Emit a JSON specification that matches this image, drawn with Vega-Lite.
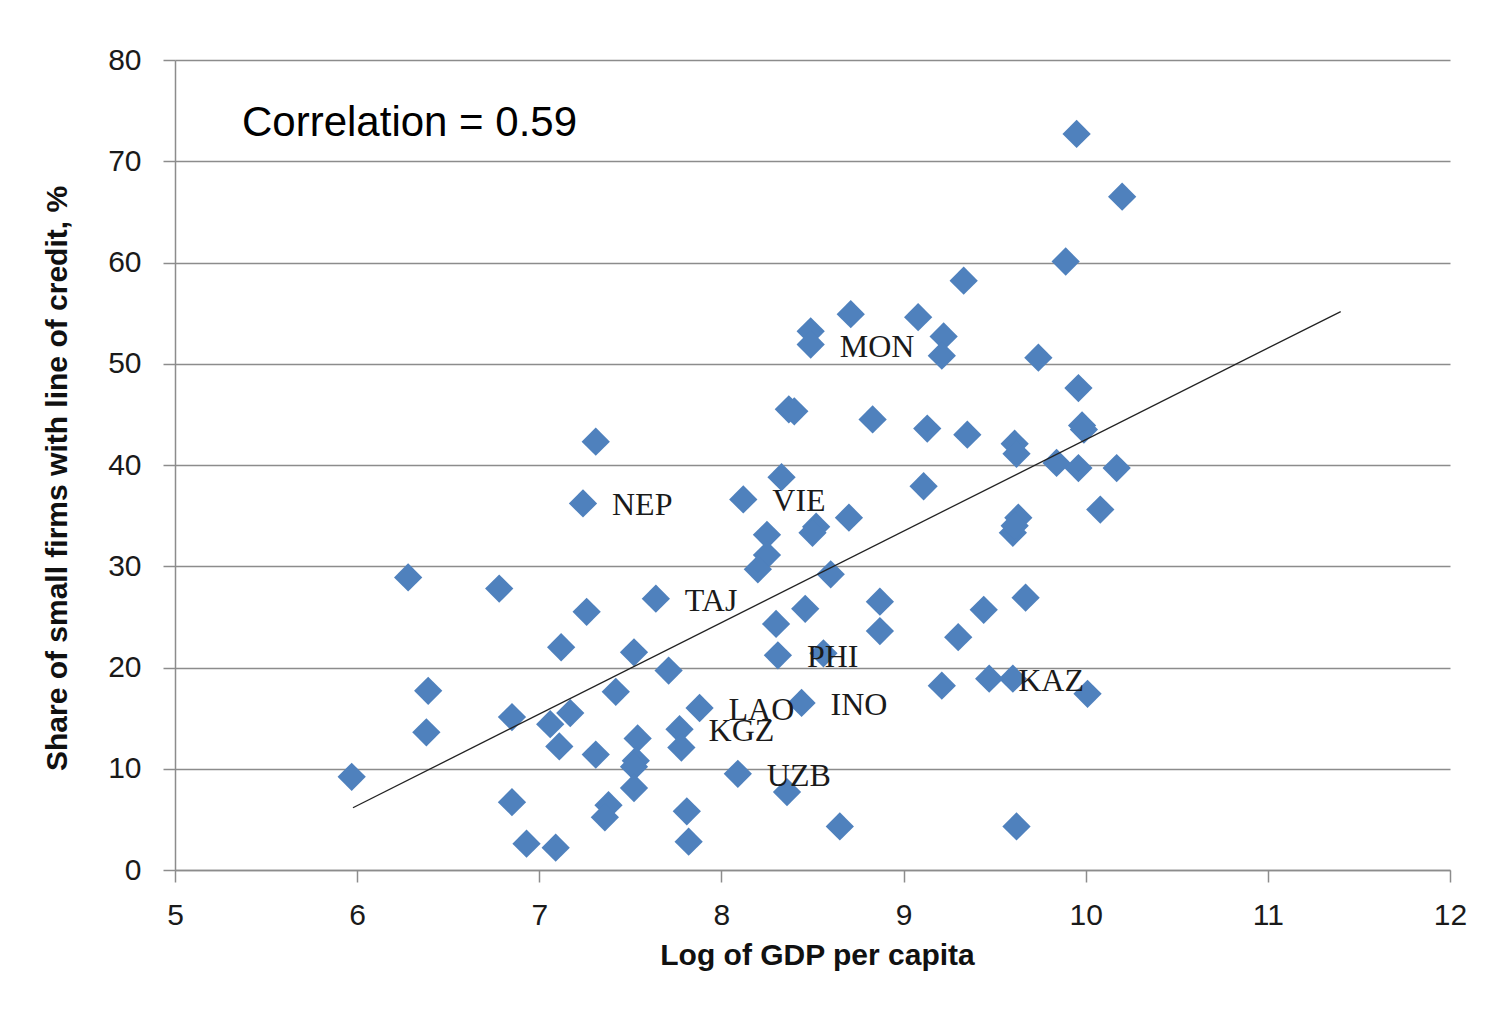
{
  "$schema": "https://vega.github.io/schema/vega-lite/v6.json",
  "width": 1275,
  "height": 810,
  "autosize": {"type": "none"},
  "padding": {"left": 175, "top": 60, "right": 54, "bottom": 153},
  "background": "white",
  "config": {"view": {"stroke": null}},
  "title": {
    "text": "Correlation = 0.59",
    "anchor": "start",
    "frame": "group",
    "orient": "top",
    "offset": -120,
    "dx": 67,
    "baseline": "middle",
    "font": "Liberation Sans",
    "fontSize": 42,
    "fontWeight": "normal",
    "color": "#000000"
  },
  "data": {
    "values": [
      {"x": 5.97, "y": 9.2},
      {"x": 6.28, "y": 28.9},
      {"x": 6.38, "y": 13.6},
      {"x": 6.39, "y": 17.7},
      {"x": 6.78, "y": 27.8},
      {"x": 6.85, "y": 15.1},
      {"x": 6.85, "y": 6.7},
      {"x": 6.93, "y": 2.6},
      {"x": 7.06, "y": 14.4},
      {"x": 7.09, "y": 2.2},
      {"x": 7.11, "y": 12.2},
      {"x": 7.12, "y": 22.0},
      {"x": 7.17, "y": 15.5},
      {"x": 7.24, "y": 36.2, "label": "NEP"},
      {"x": 7.26, "y": 25.5},
      {"x": 7.31, "y": 42.3},
      {"x": 7.31, "y": 11.4},
      {"x": 7.38, "y": 6.4},
      {"x": 7.36, "y": 5.2},
      {"x": 7.42, "y": 17.6},
      {"x": 7.52, "y": 21.5},
      {"x": 7.54, "y": 13.0},
      {"x": 7.53, "y": 10.8},
      {"x": 7.52, "y": 10.2},
      {"x": 7.52, "y": 8.1},
      {"x": 7.64, "y": 26.8, "label": "TAJ"},
      {"x": 7.71, "y": 19.7},
      {"x": 7.77, "y": 13.9, "label": "KGZ"},
      {"x": 7.78, "y": 12.1},
      {"x": 7.81, "y": 5.8},
      {"x": 7.82, "y": 2.8},
      {"x": 7.88, "y": 16.0, "label": "LAO"},
      {"x": 8.09, "y": 9.5, "label": "UZB"},
      {"x": 8.12, "y": 36.6, "label": "VIE"},
      {"x": 8.25, "y": 33.1},
      {"x": 8.25, "y": 31.1},
      {"x": 8.20, "y": 29.7},
      {"x": 8.33, "y": 38.8},
      {"x": 8.30, "y": 24.3},
      {"x": 8.31, "y": 21.2, "label": "PHI"},
      {"x": 8.37, "y": 45.5},
      {"x": 8.40, "y": 45.3},
      {"x": 8.36, "y": 7.7},
      {"x": 8.44, "y": 16.5, "label": "INO"},
      {"x": 8.46, "y": 25.8},
      {"x": 8.49, "y": 53.2},
      {"x": 8.49, "y": 51.9, "label": "MON"},
      {"x": 8.52, "y": 33.9},
      {"x": 8.50, "y": 33.3},
      {"x": 8.56, "y": 21.4},
      {"x": 8.60, "y": 29.2},
      {"x": 8.65, "y": 4.3},
      {"x": 8.70, "y": 34.8},
      {"x": 8.71, "y": 54.9},
      {"x": 8.83, "y": 44.5},
      {"x": 8.87, "y": 26.5},
      {"x": 8.87, "y": 23.6},
      {"x": 9.08, "y": 54.6},
      {"x": 9.22, "y": 52.7},
      {"x": 9.21, "y": 50.8},
      {"x": 9.11, "y": 37.9},
      {"x": 9.13, "y": 43.6},
      {"x": 9.21, "y": 18.2},
      {"x": 9.30, "y": 23.0},
      {"x": 9.33, "y": 58.2},
      {"x": 9.35, "y": 43.0},
      {"x": 9.44, "y": 25.7},
      {"x": 9.47, "y": 18.9, "label": "KAZ"},
      {"x": 9.60, "y": 18.9},
      {"x": 9.61, "y": 42.1},
      {"x": 9.62, "y": 41.1},
      {"x": 9.60, "y": 33.3},
      {"x": 9.63, "y": 34.8},
      {"x": 9.61, "y": 34.0},
      {"x": 9.67, "y": 26.9},
      {"x": 9.62, "y": 4.3},
      {"x": 9.74, "y": 50.6},
      {"x": 9.84, "y": 40.2},
      {"x": 9.89, "y": 60.1},
      {"x": 9.96, "y": 47.6},
      {"x": 9.96, "y": 39.7},
      {"x": 9.95, "y": 72.7},
      {"x": 9.98, "y": 43.9},
      {"x": 9.99, "y": 43.5},
      {"x": 10.01, "y": 17.4},
      {"x": 10.08, "y": 35.6},
      {"x": 10.17, "y": 39.7},
      {"x": 10.20, "y": 66.5}
    ]
  },
  "encoding": {
    "x": {
      "field": "x",
      "type": "quantitative",
      "scale": {"domain": [5, 12], "nice": false, "zero": false},
      "axis": {
        "title": "Log of GDP per capita",
        "titleFont": "Liberation Sans",
        "titleFontSize": 30,
        "titleFontWeight": "bold",
        "titleColor": "#111111",
        "titleX": 642,
        "titleY": 85,
        "titleAlign": "center",
        "titleBaseline": "middle",
        "values": [5, 6, 7, 8, 9, 10, 11, 12],
        "format": "d",
        "labelFont": "Liberation Sans",
        "labelFontSize": 30,
        "labelColor": "#1a1a1a",
        "labelPadding": 18,
        "labelFlush": false,
        "tickSize": 12,
        "tickColor": "#8c8c8c",
        "tickWidth": 1.5,
        "domainColor": "#8c8c8c",
        "domainWidth": 1.5,
        "grid": false
      }
    },
    "y": {
      "field": "y",
      "type": "quantitative",
      "scale": {"domain": [0, 80], "nice": false},
      "axis": {
        "title": "Share of small firms with line of credit, %",
        "titleFont": "Liberation Sans",
        "titleFontSize": 30,
        "titleFontWeight": "bold",
        "titleColor": "#111111",
        "titleX": -118,
        "titleY": 418,
        "titleAlign": "center",
        "titleBaseline": "middle",
        "values": [0, 10, 20, 30, 40, 50, 60, 70, 80],
        "labelFont": "Liberation Sans",
        "labelFontSize": 30,
        "labelColor": "#1a1a1a",
        "labelPadding": 22,
        "labelFlush": false,
        "tickSize": 12,
        "tickColor": "#8c8c8c",
        "tickWidth": 1.5,
        "domainColor": "#8c8c8c",
        "domainWidth": 1.5,
        "grid": true,
        "gridColor": "#8c8c8c",
        "gridWidth": 1.5
      }
    }
  },
  "layer": [
    {
      "mark": {"type": "point", "shape": "diamond", "filled": true, "size": 800, "color": "#4F81BD", "opacity": 1}
    },
    {
      "transform": [{"regression": "y", "on": "x", "extent": [5.977, 11.4]}],
      "mark": {"type": "line", "color": "#222222", "strokeWidth": 1.3}
    },
    {
      "transform": [{"filter": "isValid(datum.label)"}],
      "mark": {"type": "text", "align": "left", "baseline": "middle", "dx": 29, "dy": 2, "font": "Liberation Serif", "fontSize": 32, "color": "#1a1a1a"},
      "encoding": {"text": {"field": "label"}}
    }
  ]
}
